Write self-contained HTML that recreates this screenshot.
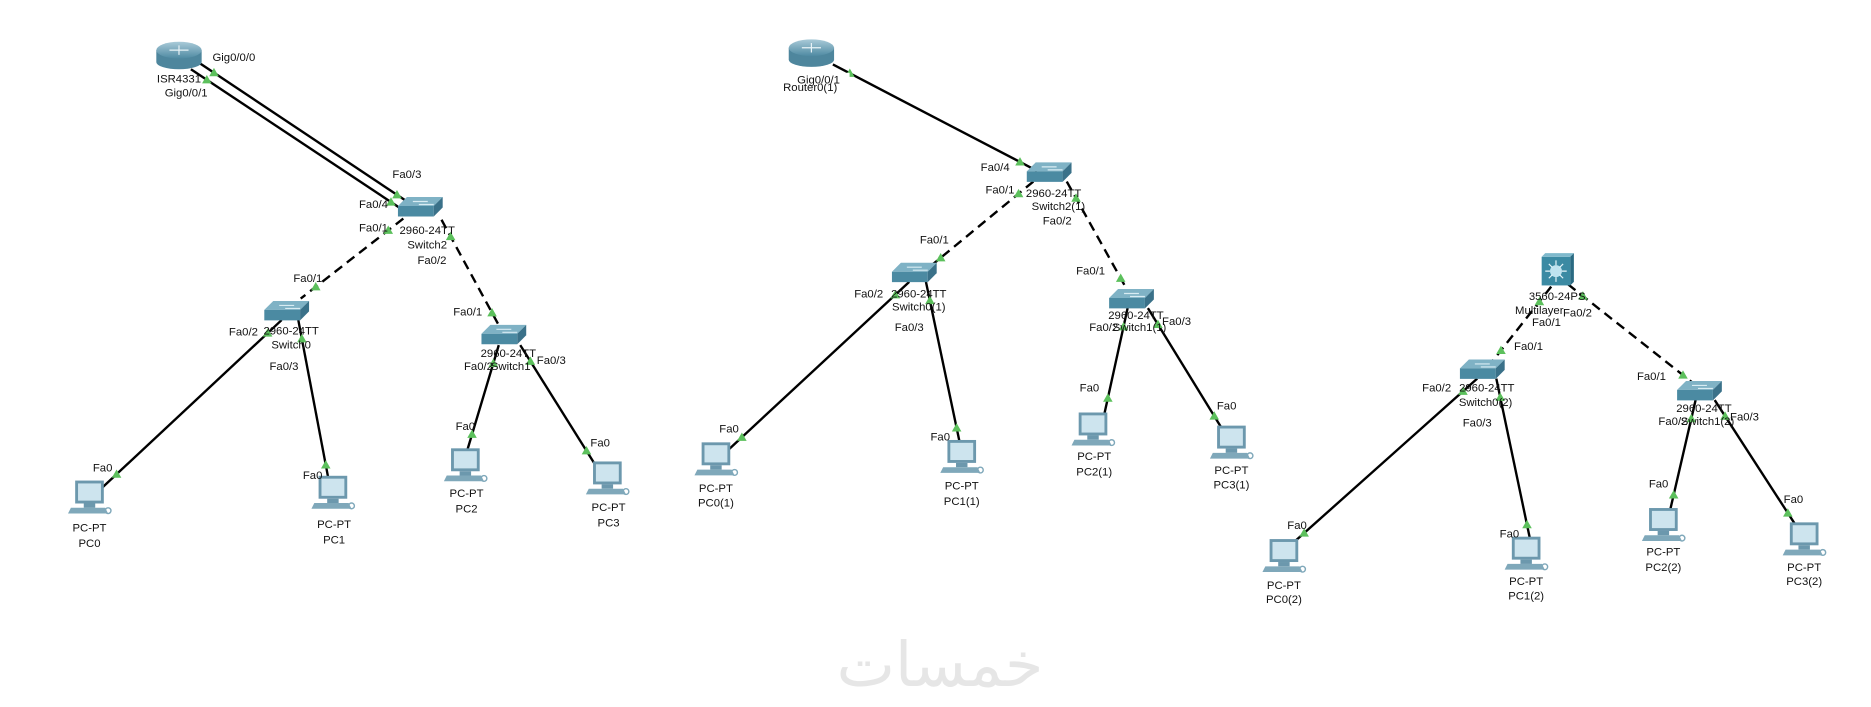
<!DOCTYPE html>
<html><head><meta charset="utf-8"><style>
html,body{margin:0;padding:0;background:#fff;width:1871px;height:707px;overflow:hidden}
svg{position:absolute;left:0;top:0}
text{font-family:"Liberation Sans",sans-serif;font-size:9.5px;fill:#111;text-anchor:middle}
.wm{position:absolute;left:820px;top:628px;width:240px;text-align:center;font-family:"DejaVu Sans",sans-serif;font-size:62px;color:#e6e6e6;direction:rtl}
</style></head><body>
<svg id="s" width="1871" height="707" viewBox="0 0 1568 592" preserveAspectRatio="none">
<defs>
<linearGradient id="rg" x1="0" y1="0" x2="0" y2="1"><stop offset="0" stop-color="#a9cad8"/><stop offset="1" stop-color="#4f8aa2"/></linearGradient>
<g id="router"><path d="M-19,-5 v10 a19,6 0 0 0 38,0 v-10 z" fill="#4e869d"/><ellipse cx="0" cy="-5" rx="19" ry="7" fill="url(#rg)"/><path d="M-8,-5 h16 M0,-9 v8" stroke="#e8f2f6" stroke-width="1"/></g>
<g id="sw"><g transform="scale(1.25)"><path d="M-18,-2 l6,-6 h24 l-6,6 z" fill="#7fb2c5"/><path d="M-18,-2 h24 v7 h-24 z" fill="#4b8aa2"/><path d="M6,-2 l6,-6 v7 l-6,6 z" fill="#3a7189"/><path d="M-8,-5 h10 M-4,-3 h10" stroke="#d8ecf3" stroke-width=".8"/></g></g>
<g id="pc"><g transform="scale(1.2)"><rect x="-10" y="-13" width="20" height="16" fill="#6c98ad"/><rect x="-8" y="-11" width="16" height="12" fill="#cde4ee"/><rect x="-4" y="3" width="8" height="3" fill="#6c98ad"/><path d="M-13,6 h24 l2,4 h-28 z" fill="#7fa8ba"/><circle cx="13" cy="8" r="2" fill="none" stroke="#7fa8ba"/></g></g>
<g id="ml"><rect x="-13" y="-13" width="24" height="24" fill="#3b8aa3"/><path d="M-13,-13 l3,-3 h24 l-3,3z" fill="#7fb9cc"/><path d="M11,-13 l3,-3 v24 l-3,3z" fill="#2a6a82"/><circle cx="-1" cy="-1" r="5" fill="#bfe3f0"/><path d="M-1,-10v4M-1,4v4M-10,-1h4M4,-1h4M-7,-7l3,3M5,5l-3,-3M5,-7l-3,3M-7,5l3,-3" stroke="#e6f5fa" stroke-width="1"/></g>
</defs>
<g id="links"></g>
<g id="icons">
<use href="#router" x="150" y="47"/><use href="#router" x="680" y="45"/>
<use href="#sw" x="356" y="175"/><use href="#sw" x="244" y="262"/><use href="#sw" x="426" y="282"/>
<use href="#sw" x="883" y="146"/><use href="#sw" x="770" y="230"/><use href="#sw" x="952" y="252"/>
<use href="#ml" x="1305" y="228"/><use href="#sw" x="1246" y="311"/><use href="#sw" x="1428" y="329"/>
<use href="#pc" x="75" y="418"/><use href="#pc" x="279" y="414"/><use href="#pc" x="390" y="391"/><use href="#pc" x="509" y="402"/>
<use href="#pc" x="600" y="386"/><use href="#pc" x="806" y="384"/><use href="#pc" x="916" y="361"/><use href="#pc" x="1032" y="372"/>
<use href="#pc" x="1076" y="467"/><use href="#pc" x="1279" y="465"/><use href="#pc" x="1394" y="441"/><use href="#pc" x="1512" y="453"/>
</g>
<g id="labels">
<text x="150" y="69">ISR4331</text><text x="196" y="51">Gig0/0/0</text><text x="156" y="81">Gig0/0/1</text>
<text x="341" y="149">Fa0/3</text><text x="313" y="174">Fa0/4</text><text x="313" y="194">Fa0/1</text><text x="362" y="221">Fa0/2</text>
<text x="358" y="196">2960-24TT</text><text x="358" y="208">Switch2</text>
<text x="258" y="236">Fa0/1</text><text x="392" y="264">Fa0/1</text>
<text x="244" y="280">2960-24TT</text><text x="244" y="292">Switch0</text><text x="204" y="281">Fa0/2</text><text x="238" y="310">Fa0/3</text>
<text x="426" y="299">2960-24TT</text><text x="428" y="310">Switch1</text><text x="401" y="310">Fa0/2</text><text x="462" y="305">Fa0/3</text>
<text x="86" y="395">Fa0</text><text x="262" y="401">Fa0</text><text x="390" y="360">Fa0</text><text x="503" y="374">Fa0</text>
<text x="75" y="445">PC-PT</text><text x="75" y="458">PC0</text><text x="280" y="442">PC-PT</text><text x="280" y="455">PC1</text>
<text x="391" y="416">PC-PT</text><text x="391" y="429">PC2</text><text x="510" y="428">PC-PT</text><text x="510" y="441">PC3</text>

<text x="679" y="76">Router0(1)</text><rect x="666" y="61" width="46" height="9" fill="#fff"/><text x="686" y="70">Gig0/0/1</text>
<text x="834" y="143">Fa0/4</text><text x="838" y="162">Fa0/1</text><text x="886" y="188">Fa0/2</text>
<text x="883" y="165">2960-24TT</text><text x="887" y="176">Switch2(1)</text>
<text x="783" y="204">Fa0/1</text><text x="914" y="230">Fa0/1</text>
<text x="770" y="249">2960-24TT</text><text x="770" y="260">Switch0(1)</text><text x="728" y="249">Fa0/2</text><text x="762" y="277">Fa0/3</text>
<text x="952" y="267">2960-24TT</text><text x="955" y="277">Switch1(1)</text><text x="925" y="277">Fa0/2</text><text x="986" y="272">Fa0/3</text>
<text x="611" y="362">Fa0</text><text x="788" y="369">Fa0</text><text x="913" y="328">Fa0</text><text x="1028" y="343">Fa0</text>
<text x="600" y="412">PC-PT</text><text x="600" y="424">PC0(1)</text><text x="806" y="410">PC-PT</text><text x="806" y="423">PC1(1)</text>
<text x="917" y="385">PC-PT</text><text x="917" y="398">PC2(1)</text><text x="1032" y="397">PC-PT</text><text x="1032" y="409">PC3(1)</text>

<text x="1305" y="251">3560-24PS</text><text x="1290" y="263">Multilayer</text><text x="1296" y="273">Fa0/1</text><text x="1322" y="265">Fa0/2</text>
<text x="1281" y="293">Fa0/1</text><text x="1384" y="318">Fa0/1</text>
<text x="1246" y="328">2960-24TT</text><text x="1245" y="340">Switch0(2)</text><text x="1204" y="328">Fa0/2</text><text x="1238" y="357">Fa0/3</text>
<text x="1428" y="345">2960-24TT</text><text x="1431" y="356">Switch1(2)</text><text x="1402" y="356">Fa0/2</text><text x="1462" y="352">Fa0/3</text>
<text x="1087" y="443">Fa0</text><text x="1265" y="450">Fa0</text><text x="1390" y="408">Fa0</text><text x="1503" y="421">Fa0</text>
<text x="1076" y="493">PC-PT</text><text x="1076" y="505">PC0(2)</text><text x="1279" y="490">PC-PT</text><text x="1279" y="502">PC1(2)</text>
<text x="1394" y="465">PC-PT</text><text x="1394" y="478">PC2(2)</text><text x="1512" y="478">PC-PT</text><text x="1512" y="490">PC3(2)</text>
</g>
</svg>
<div class="wm">خمسات</div>
<script>
var L=[
[166,52,346,172,0],[160,58,341,178,0],
[338,183,252,250,1],[370,184,420,276,1],[236,268,86,408,0],[250,268,276,405,0],[418,289,391,379,0],[436,289,500,391,0],
[698,54,869,143,0],[866,152,776,226,1],[894,152,947,247,1],[762,236,610,377,0],[776,236,805,374,0],[945,258,925,349,0],[962,258,1026,362,0],
[1300,240,1248,306,1],[1314,238,1423,324,1],[1238,317,1081,457,0],[1254,317,1283,455,0],[1421,335,1399,430,0],[1437,335,1507,443,0]];
var g=document.getElementById('links'),h='';
L.forEach(function(l){var x1=l[0],y1=l[1],x2=l[2],y2=l[3];
h+='<line x1="'+x1+'" y1="'+y1+'" x2="'+x2+'" y2="'+y2+'" stroke="#000" stroke-width="2"'+(l[4]?' stroke-dasharray="8,5"':'')+'/>';
var dx=x2-x1,dy=y2-y1,d=Math.hypot(dx,dy),ux=dx/d,uy=dy/d;
[[x1+ux*16,y1+uy*16],[x2-ux*16,y2-uy*16]].forEach(function(p){
h+='<path d="M'+(p[0])+','+(p[1]-4)+' l4,7 h-8 z" fill="#5cc05c"/>';});});
g.innerHTML=h;
</script>
</body></html>
